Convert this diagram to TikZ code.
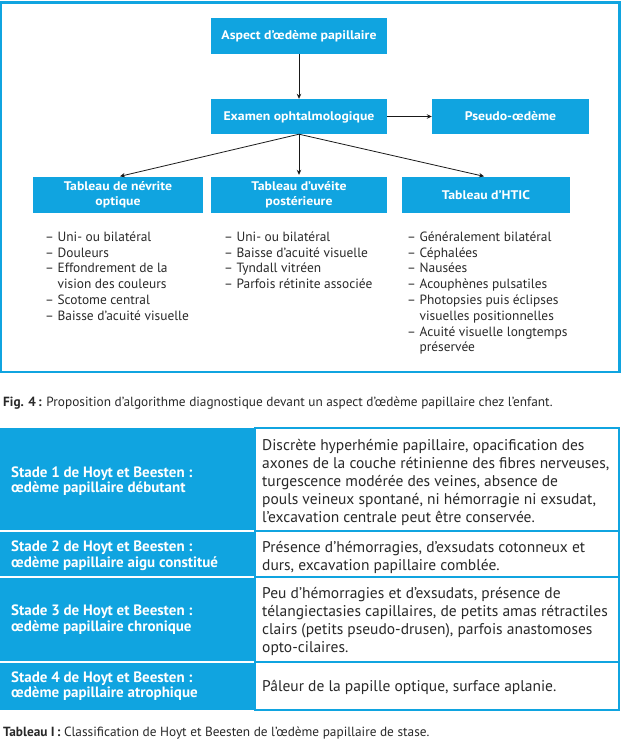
\documentclass[tikz,border=0pt]{standalone}
\usepackage{fontspec}
\setmainfont{PT Sans}
\newfontfamily\boxfont[FakeStretch=1.1]{PT Sans}
\usetikzlibrary{arrows.meta}
\definecolor{bleu}{RGB}{16,164,224}
\definecolor{txt}{RGB}{40,40,40}
\tikzset{
 flowbox/.style={fill=bleu, text=white, font=\boxfont\fontsize{12.5}{15}\selectfont\bfseries, align=center, inner sep=0pt},
 oneline/.style={text height=11pt, text depth=3pt},
 conn/.style={draw=black!90, line width=0.8pt, -{Stealth[length=5pt,width=4.5pt]}},
 listtxt/.style={text=txt, font=\fontsize{13.4}{15.8}\selectfont, align=left, inner sep=0pt, anchor=north west},
 lefttxt/.style={text=white, font=\fontsize{15}{15.7}\selectfont\bfseries, align=left, inner sep=0pt, anchor=west},
 righttxt/.style={text=txt, font=\fontsize{15.5}{18}\selectfont, align=left, inner sep=0pt, anchor=west},
 captxt/.style={text=txt, font=\fontsize{13.3}{15}\selectfont, inner sep=0pt, anchor=west},
}
\begin{document}
\begin{tikzpicture}[x=1pt,y=-1pt]
\useasboundingbox (0,0) rectangle (621,741);
% frame of the figure
\draw[bleu, line width=2.2pt] (1.1,2.5) rectangle (619.4,372);
% flowchart boxes
\node[flowbox, oneline, minimum width=176pt, minimum height=36pt] (asp) at (299,36) {Aspect d’œdème papillaire};
\node[flowbox, oneline, minimum width=176pt, minimum height=35pt] (exam) at (299,116.5) {Examen ophtalmologique};
\node[flowbox, oneline, minimum width=157pt, minimum height=35pt] (pseudo) at (510.5,116.5) {Pseudo-œdème};
\node[flowbox, minimum width=170pt, minimum height=36pt] (nev) at (118,195) {Tableau de névrite\\optique};
\node[flowbox, minimum width=176pt, minimum height=36pt] (uve) at (299,195) {Tableau d’uvéite\\postérieure};
\node[flowbox, oneline, minimum width=168pt, minimum height=36pt] (htic) at (486,195) {Tableau d’HTIC};
% connectors
\draw[conn] (asp.south) -- (exam.north);
\draw[conn] (exam.east) -- (pseudo.west);
\draw[conn, shorten >=2pt] (exam.south) -- (nev.north);
\draw[conn, shorten >=2pt] (exam.south) -- (uve.north);
\draw[conn, shorten >=2pt] (exam.south) -- (htic.north);
% lists
\node[listtxt] (l1) at (45,231.5) {– Uni- ou bilatéral\\– Douleurs\\– Effondrement de la\\\hphantom{– }vision des couleurs\\– Scotome central\\– Baisse d’acuité visuelle};
\node[listtxt] (l2) at (224,231.5) {– Uni- ou bilatéral\\– Baisse d’acuité visuelle\\– Tyndall vitréen\\– Parfois rétinite associée};
\node[listtxt] (l3) at (407,231.5) {– Généralement bilatéral\\– Céphalées\\– Nausées\\– Acouphènes pulsatiles\\– Photopsies puis éclipses\\\hphantom{– }visuelles positionnelles\\– Acuité visuelle longtemps\\\hphantom{– }préservée};
% caption 1
\node[captxt] (cap1) at (3,403) {{\bfseries Fig. 4\,:} Proposition d’algorithme diagnostique devant un aspect d’œdème papillaire chez l’enfant.};
% table
\fill[bleu] (0,428) rectangle (255,710);
\draw[bleu, line width=2pt] (255,428) rectangle (619,710);
\foreach \yy in {531,577,662} {
  \draw[white, line width=2pt] (0,\yy) -- (254,\yy);
  \draw[bleu, line width=2pt] (255,\yy) -- (619,\yy);
}
\node[lefttxt] (s1) at (11,481) {Stade 1 de Hoyt et Beesten :\\œdème papillaire débutant};
\node[lefttxt] (s2) at (11,555.5) {Stade 2 de Hoyt et Beesten :\\œdème papillaire aigu constitué};
\node[lefttxt] (s3) at (11,619.5) {Stade 3 de Hoyt et Beesten :\\œdème papillaire chronique};
\node[lefttxt] (s4) at (11,686) {Stade 4 de Hoyt et Beesten :\\œdème papillaire atrophique};
\node[righttxt] (d1) at (262,482.5) {Discrète hyperhémie papillaire, opacification des\\axones de la couche rétinienne des fibres nerveuses,\\turgescence modérée des veines, absence de\\pouls veineux spontané, ni hémorragie ni exsudat,\\l’excavation centrale peut être conservée.};
\node[righttxt] (d2) at (262,557) {Présence d’hémorragies, d’exsudats cotonneux et\\durs, excavation papillaire comblée.};
\node[righttxt] (d3) at (262,621.5) {Peu d’hémorragies et d’exsudats, présence de\\télangiectasies capillaires, de petits amas rétractiles\\clairs (petits pseudo-drusen), parfois anastomoses\\opto-cilaires.};
\node[righttxt] (d4) at (262,687) {Pâleur de la papille optique, surface aplanie.};
% caption 2
\node[captxt] (cap2) at (3,733) {{\bfseries Tableau I\,:} Classification de Hoyt et Beesten de l’œdème papillaire de stase.};
\end{tikzpicture}
\end{document}
